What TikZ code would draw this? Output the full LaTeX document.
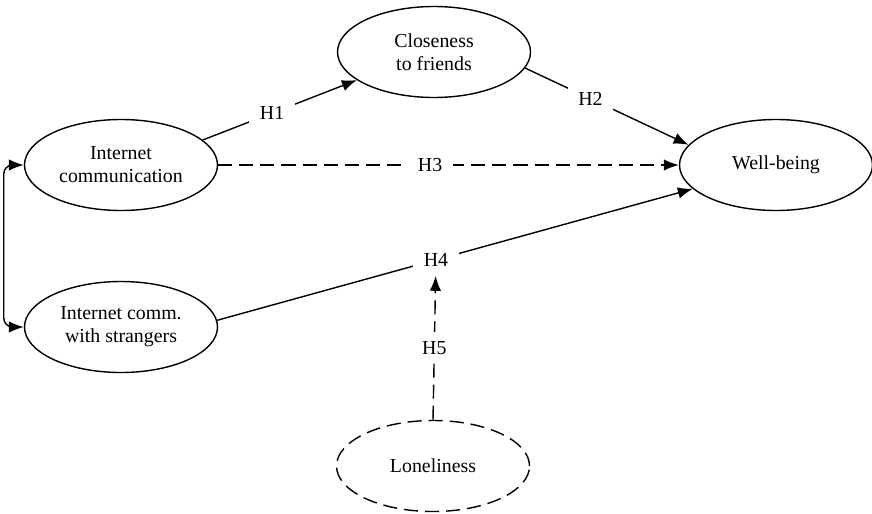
\documentclass[tikz,border=0pt]{standalone}
\usepackage{fontspec}
\setmainfont{Liberation Serif}
\usetikzlibrary{shapes.geometric, arrows.meta}
\tikzset{
  construct/.style={
    ellipse,
    draw,
    draw=black,
    line width=0.8pt,
    minimum width=3.86cm,
    minimum height=1.82cm,
    inner sep=0pt,
    align=center,
    font=\fontsize{11.3}{13}\selectfont
  },
  hyp/.style={
    fill=white,
    inner xsep=6pt,
    inner ysep=5pt,
    font=\fontsize{11.3}{13}\selectfont
  }
}
\tikzstyle{arrow} = [-{Latex[length=8.5pt,width=6.5pt]}, line width=0.8pt]
\tikzstyle{dasharrow} = [arrow, dash pattern=on 8pt off 4pt]
\tikzstyle{bothways} = [{Latex[length=8.5pt,width=6.5pt]}-{Latex[length=8.5pt,width=6.5pt]}, line width=0.8pt, rounded corners=5pt]

\begin{document}
\begin{tikzpicture}[x=0.2mm, y=-0.2mm]
    \useasboundingbox (0,0) rectangle (872,513);
    \node[construct] (ic) at (121,165) {Internet\\communication};
    \node[construct] (ics) at (121,327) {Internet comm.\\with strangers};
    \node[construct] (cf) at (434,52) {Closeness\\to friends};
    \node[construct] (wb) at (776,165) {Well-being};
    \node[construct, dash pattern=on 8pt off 4pt] (lon) at (433,466) {Loneliness};
    \draw[arrow] (ic.17) to node [hyp, pos=0.45] {H1} (cf.200);
    \draw[arrow] (cf.-10) to node [hyp, pos=0.4] {H2} (wb.167);
    \draw[dasharrow] (ic.east) to node [hyp, pos=0.46] {H3} (wb.west);
    \draw[arrow] (ics.4) to node [hyp, pos=0.46] (h4) {H4} (wb.196);
    \draw[dasharrow] (lon.north) to node [hyp, pos=0.5] {H5} (h4);
    \draw[bothways] (ic.west) -- ++(-20,0) |- (ics.west);
  \end{tikzpicture}
\end{document}
